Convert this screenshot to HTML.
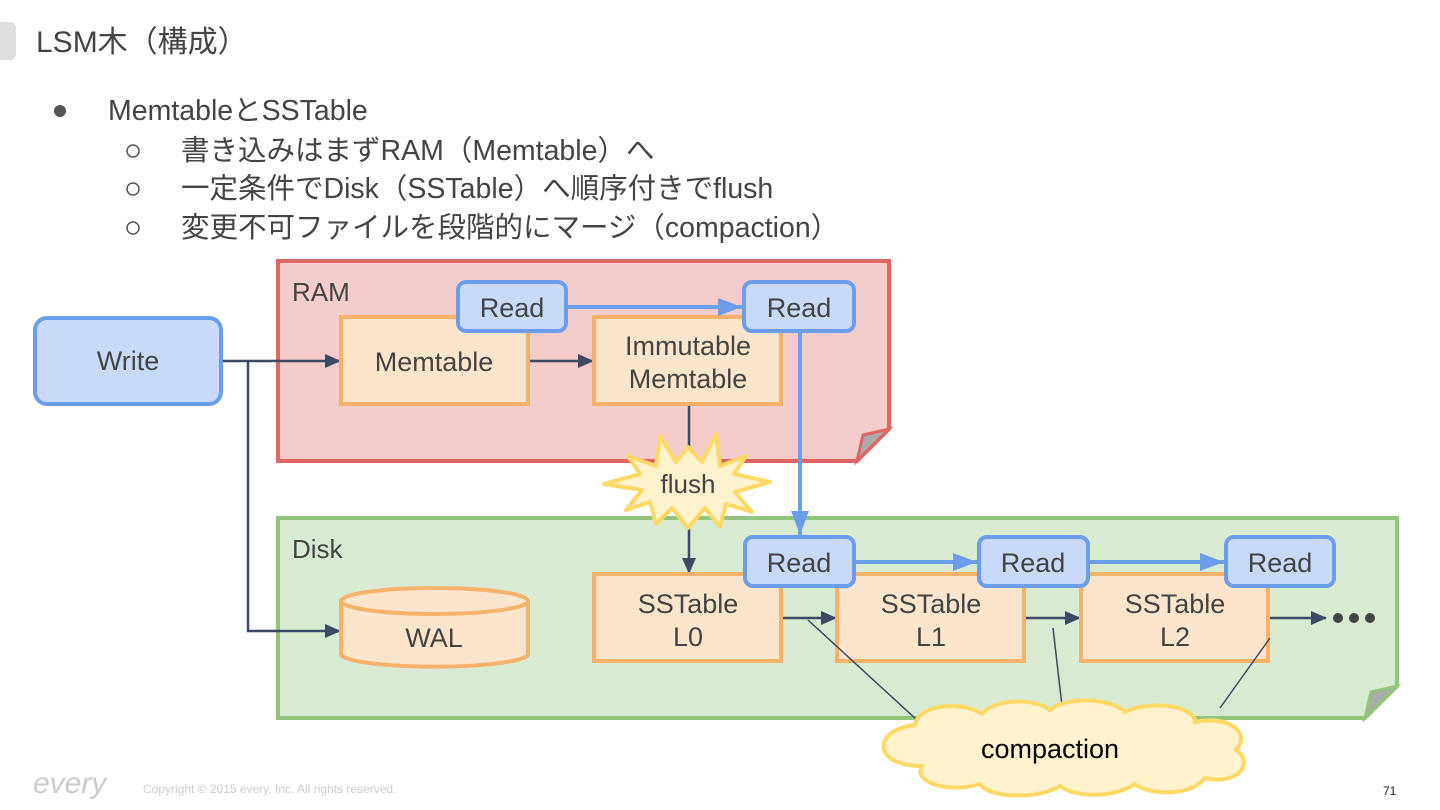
<!DOCTYPE html>
<html><head><meta charset="utf-8"><style>
body{margin:0;width:1440px;height:810px;background:#fff;overflow:hidden}
svg{display:block}
text{font-family:"Liberation Sans","Noto Sans CJK JP",sans-serif;fill:#444}
</style></head><body>
<svg width="1440" height="810" viewBox="0 0 1440 810">
<defs>
<marker id="ad" markerWidth="16" markerHeight="14" refX="15" refY="7" orient="auto" markerUnits="userSpaceOnUse"><path d="M0,0 L16,7 L0,14z" fill="#3d4a63"/></marker>
<marker id="ab" markerWidth="26" markerHeight="18" refX="24" refY="9" orient="auto" markerUnits="userSpaceOnUse"><path d="M0,0 L24,9 L0,18z" fill="#6d9eeb"/></marker>
</defs>
<rect x="-10" y="22" width="26" height="38" rx="6" fill="#ddd"/>
<text x="36" y="52" font-size="30">LSM木（構成）</text>
<circle cx="60" cy="111" r="6" fill="#555"/>
<text x="108" y="120" font-size="28.5">MemtableとSSTable</text>
<g font-size="28.5">
<circle cx="133" cy="151" r="6" fill="none" stroke="#555" stroke-width="1.5"/>
<text x="181" y="160">書き込みはまずRAM（Memtable）へ</text>
<circle cx="133" cy="189" r="6" fill="none" stroke="#555" stroke-width="1.5"/>
<text x="181" y="198">一定条件でDisk（SSTable）へ順序付きでflush</text>
<circle cx="133" cy="228" r="6" fill="none" stroke="#555" stroke-width="1.5"/>
<text x="181" y="237">変更不可ファイルを段階的にマージ（compaction）</text>
</g>
<!-- RAM -->
<path d="M278,261 H889 V429 L857,461 H278Z" fill="#f4cccc" stroke="#e06666" stroke-width="4"/>
<path d="M889,429 L857,461 L863,435Z" fill="#aaa" stroke="#e06666" stroke-width="3"/>
<text x="292" y="301" font-size="26">RAM</text>
<!-- Disk -->
<path d="M278,518 H1397 V686 L1365,718 H278Z" fill="#d9ead3" stroke="#93c47d" stroke-width="4"/>
<path d="M1397,686 L1365,718 L1371,692Z" fill="#aaa" stroke="#93c47d" stroke-width="3"/>
<text x="292" y="558" font-size="26">Disk</text>
<!-- dark connectors -->
<g stroke="#3d4a63" stroke-width="2.5" fill="none">
<path d="M221,361 H340" marker-end="url(#ad)"/>
<path d="M248,361 V631 H340" marker-end="url(#ad)"/>
<path d="M528,361 H593" marker-end="url(#ad)"/>
<path d="M689,404 V573" marker-end="url(#ad)"/>
<path d="M783,618 H836" marker-end="url(#ad)"/>
<path d="M1026,618 H1080" marker-end="url(#ad)"/>
<path d="M1270,618 H1326" marker-end="url(#ad)"/>
</g>
<g fill="#444"><circle cx="1338" cy="618" r="5"/><circle cx="1354" cy="618" r="5"/><circle cx="1370" cy="618" r="5"/></g>
<!-- boxes -->
<rect x="35" y="318" width="186" height="86" rx="12" fill="#c9daf8" stroke="#6d9eeb" stroke-width="4"/>
<text x="128" y="370" font-size="27" text-anchor="middle">Write</text>
<g fill="#fce5cd" stroke="#f6b26b" stroke-width="4">
<rect x="341" y="317" width="187" height="87"/>
<rect x="594" y="317" width="187" height="87"/>
<rect x="594" y="574" width="187" height="87"/>
<rect x="837" y="574" width="187" height="87"/>
<rect x="1081" y="574" width="187" height="87"/>
<path d="M341,601 V655 A94,13 0 0 0 528,655 V601"/>
<ellipse cx="434.5" cy="601" rx="93.5" ry="13"/>
</g>
<g font-size="27" text-anchor="middle">
<text x="434" y="371">Memtable</text>
<text x="688" y="355">Immutable</text><text x="688" y="388">Memtable</text>
<text x="688" y="613">SSTable</text><text x="688" y="646">L0</text>
<text x="931" y="613">SSTable</text><text x="931" y="646">L1</text>
<text x="1175" y="613">SSTable</text><text x="1175" y="646">L2</text>
<text x="434" y="647">WAL</text>
</g>
<g stroke="#3d4a63" stroke-width="1.5">
<line x1="808" y1="620" x2="917" y2="720"/>
<line x1="1053" y1="628" x2="1062" y2="706"/>
<line x1="1270" y1="638" x2="1220" y2="708"/>
</g>
<!-- flush star -->
<polygon points="688,447 702,462 716,434 720,466 746,456 734,474 770,482 735,492 752,512 726,504 720,527 705,508 688,528 672,508 656,524 650,502 626,510 642,490 604,484 640,474 628,456 656,466 660,436 676,462" fill="#fff2cc" stroke="#ffd966" stroke-width="4" stroke-linejoin="round"/>
<text x="688" y="493" font-size="26" text-anchor="middle">flush</text>
<!-- blue read arrows -->
<g stroke="#6d9eeb" stroke-width="4" fill="none">
<path d="M566,307 H742" marker-end="url(#ab)"/>
<path d="M800,331 V535" marker-end="url(#ab)"/>
<path d="M854,562 H977" marker-end="url(#ab)"/>
<path d="M1088,562 H1224" marker-end="url(#ab)"/>
</g>
<g fill="#c9daf8" stroke="#6d9eeb" stroke-width="4">
<rect x="458" y="282" width="108" height="49" rx="8"/>
<rect x="744" y="282" width="110" height="49" rx="8"/>
<rect x="745" y="537" width="109" height="49" rx="8"/>
<rect x="979" y="537" width="109" height="49" rx="8"/>
<rect x="1226" y="537" width="108" height="49" rx="8"/>
</g>
<g font-size="27" text-anchor="middle">
<text x="512" y="317">Read</text><text x="799" y="317">Read</text>
<text x="799" y="572">Read</text><text x="1033" y="572">Read</text><text x="1280" y="572">Read</text>
</g>
<!-- cloud -->
<path d="M915,725 C918,705 960,700 982,714 C995,698 1035,698 1050,710 C1065,696 1112,698 1125,712 C1148,700 1195,705 1195,722 C1228,715 1252,732 1236,750 C1255,762 1238,786 1205,778 C1192,796 1150,796 1135,784 C1115,798 1075,798 1060,786 C1040,799 990,799 980,784 C948,794 912,782 922,766 C872,766 872,730 915,725Z" fill="#fff2cc" stroke="#ffd966" stroke-width="4"/>
<text x="1050" y="758" font-size="27" text-anchor="middle" style="fill:#000">compaction</text>
<!-- footer -->
<text x="33" y="793" font-size="30" font-style="italic" style="fill:#ccc">every</text>
<text x="143" y="793" font-size="12" style="fill:#ccc">Copyright © 2015 every, Inc. All rights reserved.</text>
<text x="1383" y="795" font-size="12" style="fill:#222">71</text>
</svg>
</body></html>
